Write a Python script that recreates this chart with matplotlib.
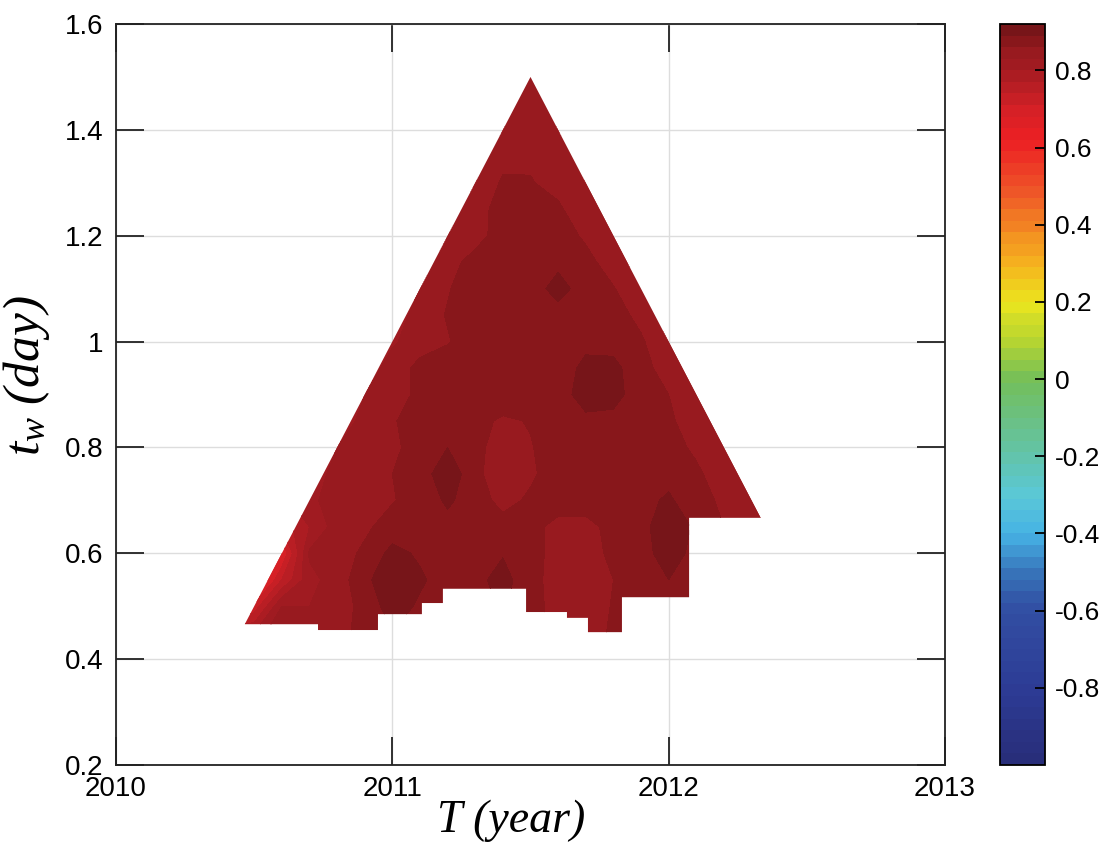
import numpy as np
import matplotlib
matplotlib.use("Agg")
import matplotlib.pyplot as plt
from matplotlib.colors import LinearSegmentedColormap
from matplotlib.patches import Polygon
from matplotlib.ticker import FormatStrFormatter

plt.rcParams['font.family'] = 'Liberation Sans'
plt.rcParams['axes.unicode_minus'] = False
plt.rcParams['mathtext.fontset'] = 'custom'
plt.rcParams['mathtext.it'] = 'Liberation Serif:italic'
plt.rcParams['mathtext.rm'] = 'Liberation Serif:italic'

# grid nodes of the map: T (year) columns, t_w (day) rows
T_nodes = np.round(np.arange(2010.4, 2012.45, 0.1), 2)
tw_nodes = np.round(np.arange(0.45, 1.56, 0.05), 2)

# correlation values, one row per t_w node (0.45 ... 1.55)
rho = [
    [0.80, 0.80, 0.87, 0.84, 0.85, 0.87, 0.89, 0.88, 0.875, 0.875, 0.875, 0.875, 0.85, 0.845, 0.865, 0.875, 0.875, 0.875, 0.86, 0.84, 0.82],
    [0.70, 0.72, 0.83, 0.83, 0.845, 0.87, 0.905, 0.885, 0.875, 0.875, 0.895, 0.872, 0.848, 0.845, 0.862, 0.875, 0.875, 0.875, 0.86, 0.84, 0.82],
    [0.60, 0.62, 0.74, 0.82, 0.845, 0.88, 0.92, 0.895, 0.875, 0.882, 0.90, 0.872, 0.845, 0.842, 0.86, 0.875, 0.89, 0.875, 0.86, 0.84, 0.82],
    [0.62, 0.65, 0.68, 0.835, 0.848, 0.865, 0.90, 0.885, 0.875, 0.878, 0.888, 0.875, 0.845, 0.845, 0.868, 0.878, 0.905, 0.88, 0.86, 0.84, 0.82],
    [0.70, 0.72, 0.75, 0.80, 0.845, 0.855, 0.872, 0.875, 0.88, 0.875, 0.872, 0.87, 0.85, 0.848, 0.872, 0.88, 0.91, 0.885, 0.86, 0.84, 0.82],
    [0.78, 0.78, 0.79, 0.825, 0.84, 0.848, 0.858, 0.872, 0.895, 0.875, 0.85, 0.865, 0.875, 0.878, 0.878, 0.88, 0.895, 0.87, 0.855, 0.83, 0.81],
    [0.80, 0.80, 0.80, 0.81, 0.842, 0.848, 0.86, 0.875, 0.91, 0.87, 0.835, 0.855, 0.875, 0.878, 0.878, 0.878, 0.88, 0.865, 0.845, 0.815, 0.80],
    [0.80, 0.80, 0.80, 0.81, 0.83, 0.845, 0.855, 0.87, 0.89, 0.872, 0.84, 0.858, 0.875, 0.878, 0.878, 0.875, 0.87, 0.855, 0.83, 0.81, 0.80],
    [0.80, 0.80, 0.80, 0.80, 0.81, 0.84, 0.858, 0.87, 0.878, 0.87, 0.855, 0.862, 0.875, 0.885, 0.882, 0.875, 0.865, 0.845, 0.815, 0.80, 0.80],
    [0.80, 0.80, 0.80, 0.80, 0.81, 0.83, 0.85, 0.865, 0.875, 0.878, 0.88, 0.878, 0.88, 0.90, 0.90, 0.875, 0.86, 0.83, 0.81, 0.80, 0.80],
    [0.80, 0.80, 0.80, 0.80, 0.80, 0.81, 0.845, 0.868, 0.875, 0.875, 0.878, 0.88, 0.88, 0.895, 0.898, 0.872, 0.845, 0.815, 0.80, 0.80, 0.80],
    [0.80, 0.80, 0.80, 0.80, 0.80, 0.81, 0.825, 0.848, 0.858, 0.875, 0.88, 0.88, 0.878, 0.885, 0.88, 0.865, 0.83, 0.81, 0.80, 0.80, 0.80],
    [0.80, 0.80, 0.80, 0.80, 0.80, 0.80, 0.81, 0.845, 0.862, 0.875, 0.878, 0.88, 0.882, 0.88, 0.875, 0.85, 0.815, 0.80, 0.80, 0.80, 0.80],
    [0.80, 0.80, 0.80, 0.80, 0.80, 0.80, 0.81, 0.83, 0.858, 0.875, 0.88, 0.88, 0.898, 0.88, 0.862, 0.835, 0.81, 0.80, 0.80, 0.80, 0.80],
    [0.80, 0.80, 0.80, 0.80, 0.80, 0.80, 0.80, 0.815, 0.85, 0.87, 0.878, 0.88, 0.885, 0.87, 0.845, 0.815, 0.80, 0.80, 0.80, 0.80, 0.80],
    [0.80, 0.80, 0.80, 0.80, 0.80, 0.80, 0.80, 0.81, 0.83, 0.85, 0.872, 0.88, 0.875, 0.855, 0.83, 0.81, 0.80, 0.80, 0.80, 0.80, 0.80],
    [0.80, 0.80, 0.80, 0.80, 0.80, 0.80, 0.80, 0.80, 0.82, 0.845, 0.875, 0.875, 0.865, 0.84, 0.82, 0.80, 0.80, 0.80, 0.80, 0.80, 0.80],
    [0.80, 0.80, 0.80, 0.80, 0.80, 0.80, 0.80, 0.80, 0.81, 0.83, 0.865, 0.862, 0.85, 0.83, 0.81, 0.80, 0.80, 0.80, 0.80, 0.80, 0.80],
    [0.80, 0.80, 0.80, 0.80, 0.80, 0.80, 0.80, 0.80, 0.80, 0.82, 0.85, 0.855, 0.85, 0.82, 0.80, 0.80, 0.80, 0.80, 0.80, 0.80, 0.80],
    [0.80, 0.80, 0.80, 0.80, 0.80, 0.80, 0.80, 0.80, 0.80, 0.81, 0.83, 0.85, 0.83, 0.81, 0.80, 0.80, 0.80, 0.80, 0.80, 0.80, 0.80],
    [0.80, 0.80, 0.80, 0.80, 0.80, 0.80, 0.80, 0.80, 0.80, 0.80, 0.82, 0.85, 0.82, 0.80, 0.80, 0.80, 0.80, 0.80, 0.80, 0.80, 0.80],
    [0.80, 0.80, 0.80, 0.80, 0.80, 0.80, 0.80, 0.80, 0.80, 0.80, 0.82, 0.845, 0.82, 0.80, 0.80, 0.80, 0.80, 0.80, 0.80, 0.80, 0.80],
    [0.80, 0.80, 0.80, 0.80, 0.80, 0.80, 0.80, 0.80, 0.80, 0.80, 0.80, 0.83, 0.80, 0.80, 0.80, 0.80, 0.80, 0.80, 0.80, 0.80, 0.80],
]

# lower (stepped) edge of the valid region: step positions and levels between them
edge_T = [2010.466, 2010.731, 2010.948, 2011.107, 2011.183, 2011.484,
          2011.632, 2011.708, 2011.831, 2012.074, 2012.333]
edge_tw = [0.466, 0.455, 0.485, 0.506, 0.533, 0.489, 0.478, 0.451, 0.517, 0.667]
apex = (2011.5, 1.5)

x_ticks = [2010, 2011, 2012, 2013]
y_ticks = [0.2, 0.4, 0.6, 0.8, 1.0, 1.2, 1.4, 1.6]
cb_ticks = [-0.8, -0.6, -0.4, -0.2, 0, 0.2, 0.4, 0.6, 0.8]
vmin, vmax = -1.0, 0.92

# jet-like colour scale as printed in the figure
stops = [(-1.0, (40, 45, 120)), (-0.8, (45, 60, 150)), (-0.6, (50, 78, 162)),
         (-0.5, (55, 115, 185)), (-0.4, (70, 178, 228)), (-0.3, (90, 200, 215)),
         (-0.2, (98, 196, 172)), (0.0, (115, 190, 90)), (0.1, (180, 212, 50)),
         (0.2, (235, 230, 30)), (0.3, (245, 180, 30)), (0.4, (242, 130, 35)),
         (0.5, (238, 82, 40)), (0.62, (236, 32, 36)), (0.70, (215, 32, 38)),
         (0.75, (190, 30, 36)), (0.80, (168, 28, 34)), (0.83, (157, 27, 32)),
         (0.86, (146, 25, 30)), (0.89, (132, 22, 26)), (0.92, (115, 20, 24))]
cmap = LinearSegmentedColormap.from_list(
    'printjet', [((v - vmin) / (vmax - vmin), tuple(c / 255 for c in rgb)) for v, rgb in stops])
levels = np.linspace(vmin, vmax, 65)

fig = plt.figure(figsize=(11.2, 8.61), dpi=100)
ax = fig.add_axes([0.1036, 0.1115, 0.7401, 0.8606])
cax = fig.add_axes([0.8929, 0.1115, 0.0401, 0.8606])

cs = ax.contourf(T_nodes, tw_nodes, np.array(rho), levels=levels, cmap=cmap,
                 vmin=vmin, vmax=vmax)

verts = [(edge_T[0], edge_tw[0])]
for i in range(len(edge_tw)):
    verts.append((edge_T[i + 1], edge_tw[i]))
    if i + 1 < len(edge_tw):
        verts.append((edge_T[i + 1], edge_tw[i + 1]))
verts.append(apex)
region = Polygon(verts, closed=True, facecolor='none', edgecolor='none')
ax.add_patch(region)
cs.set_clip_path(region)

ax.set_xlim(2010, 2013)
ax.set_ylim(0.2, 1.6)
ax.set_xticks(x_ticks)
ax.set_yticks(y_ticks)
ax.yaxis.set_major_formatter(FormatStrFormatter('%g'))
ax.set_axisbelow(True)
ax.grid(True, color='#dddddd', linewidth=1.0)
ax.tick_params(direction='in', length=20, width=1.3, top=True, right=True,
               labelsize=20, color='#222222')
ax.tick_params(axis='x', pad=8)
ax.tick_params(axis='y', pad=9)
for s in ax.spines.values():
    s.set_linewidth(1.3)
    s.set_color('#222222')

ax.set_xlabel('T (year)', fontfamily='Liberation Serif', style='italic', fontsize=33)
ax.xaxis.set_label_coords(0.477, -0.047)
ax.set_ylabel(r'$t_w\ (day)$', fontsize=37)
ax.yaxis.set_label_coords(-0.077, 0.525)

cb = fig.colorbar(cs, cax=cax, ticks=cb_ticks)
cb.ax.yaxis.set_major_formatter(FormatStrFormatter('%g'))
cb.ax.tick_params(direction='in', length=7, width=1.3, labelsize=19, pad=7)
cb.outline.set_linewidth(1.3)

fig.savefig('out.png', dpi=100)
